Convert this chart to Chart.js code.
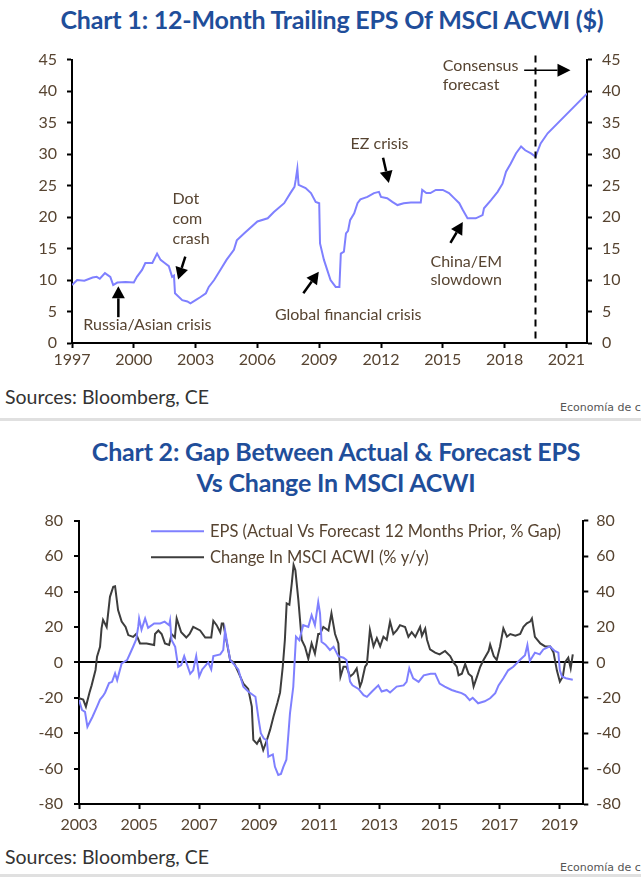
<!DOCTYPE html>
<html>
<head>
<meta charset="utf-8">
<script src="https://cdn.jsdelivr.net/npm/chart.js@4"></script>
<style>
  body { margin: 0; background: #fff; width: 641px; height: 881px; overflow: hidden; position: relative; font-family: Lato, sans-serif; }
  .title { position: absolute; left: 0; width: 664px; text-align: center; color: #1f4e9a; font-weight: bold; font-size: 25px; line-height: 31px; letter-spacing: -0.2px; }
  .src { position: absolute; left: 5px; font-size: 19.5px; color: #333; }
  .tag { position: absolute; left: 560px; font-size: 11px; color: #555; white-space: nowrap; font-family: "DejaVu Sans", sans-serif; }
  .sep { position: absolute; left: 0; width: 641px; height: 3px; background: #e0e0e0; }
  .box { position: absolute; left: 0; width: 641px; }
</style>
</head>
<body>
<div class="title" style="top:4px">Chart 1: 12-Month Trailing EPS Of MSCI ACWI ($)</div>
<div class="box" style="top:40px;height:340px"><canvas id="chart1"></canvas></div>
<div class="src" style="top:385px">Sources: Bloomberg, CE</div>
<div class="tag" style="top:401px">Economía de c</div>
<div class="sep" style="top:418px"></div>

<div class="title" style="top:436px;width:672px">Chart 2: Gap Between Actual &amp; Forecast EPS<br>Vs Change In MSCI ACWI</div>
<div class="box" style="top:500px;height:345px"><canvas id="chart2"></canvas></div>
<div class="src" style="top:845px">Sources: Bloomberg, CE</div>
<div class="tag" style="top:861px">Economía de c</div>
<div class="sep" style="top:874px"></div>

<script>
// ---- Chart 1 data: 12m trailing EPS of MSCI ACWI ($)
const epsYears = [1997.0, 1997.25, 1997.6, 1998.0, 1998.2, 1998.35, 1998.6, 1998.86, 1999.0, 1999.2, 1999.6,
  2000.0, 2000.15, 2000.4, 2000.56, 2000.9, 2001.13, 2001.3, 2001.5, 2001.7, 2001.86, 2001.95,
  2002.0, 2002.35, 2002.6, 2002.75, 2003.0, 2003.24, 2003.5, 2003.64, 2003.9, 2004.2, 2004.5, 2004.86,
  2005.0, 2005.35, 2006.0, 2006.5, 2006.8, 2007.3, 2007.6, 2007.8, 2007.86, 2007.94, 2008.0, 2008.34,
  2008.6, 2008.83, 2009.0, 2009.04, 2009.23, 2009.4, 2009.55, 2009.8, 2009.98, 2010.05, 2010.2, 2010.3,
  2010.4, 2010.5, 2010.7, 2010.86, 2011.0, 2011.34, 2011.66, 2011.9, 2012.0, 2012.3, 2012.55, 2012.8,
  2013.1, 2013.45, 2013.93, 2014.0, 2014.2, 2014.4, 2014.66, 2015.0, 2015.3, 2015.55, 2015.8, 2015.96,
  2016.2, 2016.6, 2016.93, 2017.0, 2017.34, 2017.66, 2017.9, 2018.07, 2018.3, 2018.55, 2018.8, 2019.0,
  2019.28, 2019.5, 2019.75, 2020.09, 2022.0];
const epsValues = [9.2, 10.0, 9.9, 10.4, 10.5, 10.2, 11.1, 10.5, 9.2, 9.6, 9.7,
  9.6, 10.5, 11.6, 12.7, 12.7, 14.2, 13.2, 12.7, 12.2, 10.5, 10.7,
  7.9, 6.8, 6.6, 6.3, 6.8, 7.3, 7.9, 8.9, 10.0, 11.6, 13.2, 14.8,
  16.3, 17.4, 19.3, 19.8, 20.8, 22.2, 23.8, 24.8, 25.9, 27.7, 25.1, 24.6,
  23.8, 22.4, 22.2, 15.8, 13.2, 11.5, 10.0, 8.9, 8.9, 14.2, 14.5, 17.4,
  17.8, 19.5, 20.6, 22.2, 22.8, 23.2, 23.8, 24.0, 23.2, 23.0, 22.4, 21.9,
  22.2, 22.3, 22.3, 24.3, 23.8, 23.8, 24.3, 24.3, 23.8, 23.0, 22.2, 21.2,
  19.8, 19.8, 20.3, 21.4, 22.7, 24.0, 25.3, 27.2, 28.5, 30.1, 31.2, 30.6,
  30.1, 29.6, 31.7, 33.3, 39.6];
const chart1XTicks = [1997, 2000, 2003, 2006, 2009, 2012, 2015, 2018, 2021];
const forecastStart = 2019.5;

// ---- Chart 2 data
const gapYears = [2003.0, 2003.1, 2003.2, 2003.28, 2003.45, 2003.6, 2003.7, 2003.8, 2003.87, 2004.0, 2004.1,
  2004.2, 2004.27, 2004.42, 2004.6, 2004.7, 2004.8, 2004.9, 2004.97, 2005.0, 2005.08, 2005.2, 2005.3,
  2005.5, 2005.7, 2005.85, 2006.0, 2006.03, 2006.08, 2006.2, 2006.3, 2006.4, 2006.5, 2006.7, 2006.8,
  2006.9, 2007.0, 2007.1, 2007.3, 2007.4, 2007.47, 2007.7, 2007.8, 2007.86, 2007.97, 2008.03, 2008.15,
  2008.3, 2008.47, 2008.63, 2008.87, 2008.98, 2009.05, 2009.15, 2009.25, 2009.3, 2009.45, 2009.52,
  2009.63, 2009.72, 2009.8, 2009.9, 2009.97, 2010.02, 2010.13, 2010.22, 2010.33, 2010.46, 2010.63,
  2010.74, 2010.85, 2010.96, 2011.02, 2011.07, 2011.2, 2011.35, 2011.47, 2011.63, 2011.8, 2011.9,
  2012.02, 2012.1, 2012.3, 2012.47, 2012.58, 2012.75, 2012.96, 2013.07, 2013.24, 2013.35, 2013.57,
  2013.8, 2013.9, 2013.99, 2014.12, 2014.3, 2014.47, 2014.7, 2014.85, 2015.0, 2015.17, 2015.4, 2015.55,
  2015.73, 2015.85, 2016.0, 2016.1, 2016.28, 2016.5, 2016.68, 2016.85, 2016.96, 2017.12, 2017.28,
  2017.45, 2017.67, 2017.84, 2017.92, 2018.0, 2018.17, 2018.33, 2018.45, 2018.56, 2018.67, 2018.83,
  2018.95, 2019.0, 2019.07, 2019.2, 2019.43];
const gapValues = [-21.3, -26.9, -28, -36.4, -30.7, -25, -21, -19, -17, -11.7, -11,
  -6.2, -10, -0.6, 1.3, 5, 8.8, 12.8, 20, 24.8, 18.5, 24.8, 19.5,
  22, 22, 23, 21, 23.5, 12.6, 8.8, -2.5, -1.5, 3.5, -6.5, -4.5,
  3.5, -8, -4, 0, -4, 3.5, 4.5, 7, 18, 7, 1.3, -1,
  -4, -13.8, -16.5, -19.4, -32.6, -40, -43, -44, -53.3, -52, -59,
  -63.6, -63, -59, -55, -40, -28.8, -13.8, 14.5, 12.5, 21, 20,
  26.7, 21, 34, 27.7, 11.6, 10, 7, 8.8, 3.5, 2.6, 1.3,
  -10.9, -13, -15, -18.5, -19.5, -16.5, -13, -16.5, -15.6, -17, -13.7,
  -13, -11, -3.4, -9, -11, -7.3, -6.4, -6.4, -12, -13.7, -15.6, -16.5,
  -17.4, -18.5, -21.3, -20, -23.1, -22, -20.3, -17.4, -13, -9, -4.5,
  -2.5, 1.3, 4, 9.8, 0.8, 5.5, 4.5, 7.3, 8.2, 9, 6.4,
  5.5, -4.5, -8, -9, -9.8];

const acwiYears = [2003.0, 2003.14, 2003.23, 2003.35, 2003.42, 2003.55, 2003.6, 2003.7, 2003.75, 2003.8, 2003.92,
  2004.03, 2004.14, 2004.2, 2004.3, 2004.42, 2004.55, 2004.64, 2004.8, 2004.9, 2005.03, 2005.25, 2005.5,
  2005.53, 2005.64, 2005.75, 2005.86, 2006.0, 2006.08, 2006.19, 2006.25, 2006.4, 2006.57, 2006.68, 2006.8,
  2007.03, 2007.2, 2007.4, 2007.47, 2007.58, 2007.7, 2007.75, 2007.8, 2007.9, 2008.03, 2008.15, 2008.3,
  2008.47, 2008.63, 2008.75, 2008.8, 2008.92, 2009.02, 2009.13, 2009.25, 2009.36, 2009.47, 2009.6, 2009.69,
  2009.78, 2009.85, 2009.91, 2010.0, 2010.08, 2010.14, 2010.2, 2010.3, 2010.41, 2010.52, 2010.63, 2010.74,
  2010.85, 2010.96, 2011.02, 2011.13, 2011.3, 2011.4, 2011.52, 2011.63, 2011.7, 2011.8, 2011.9, 2012.02,
  2012.13, 2012.24, 2012.35, 2012.41, 2012.52, 2012.58, 2012.68, 2012.8, 2012.91, 2013.02, 2013.13, 2013.24,
  2013.35, 2013.46, 2013.57, 2013.68, 2013.85, 2013.96, 2014.07, 2014.19, 2014.35, 2014.41, 2014.52, 2014.58,
  2014.68, 2014.85, 2015.0, 2015.18, 2015.35, 2015.46, 2015.57, 2015.63, 2015.74, 2015.85, 2015.96, 2016.07,
  2016.13, 2016.24, 2016.35, 2016.46, 2016.63, 2016.68, 2016.8, 2016.9, 2017.01, 2017.12, 2017.24, 2017.35,
  2017.52, 2017.68, 2017.79, 2017.9, 2018.01, 2018.07, 2018.17, 2018.35, 2018.51, 2018.68, 2018.79, 2018.9,
  2019.0, 2019.1, 2019.17, 2019.28, 2019.36, 2019.43];
const acwiValues = [-20.3, -21, -25, -17, -13, -4.3, 3.2, 8.8, 19.2, 24, 20,
  37, 42.7, 43, 29.5, 23, 20, 15.4, 14.4, 16, 10.7, 10.7, 9.8,
  16, 18, 16, 10.7, 9.8, 16, 14, 24.8, 17, 14, 16, 20,
  18, 14, 14, 23.5, 21, 17, 22, 22, 12.8, 1.3, 0, -5.5,
  -12, -15, -25, -43.8, -46, -43, -49.5, -44, -38, -30.7, -23, -17,
  -2.5, 12.6, 33.3, 32.5, 44.6, 55, 52, 35, 12.6, 8.8, 2, 10.7,
  5, 16, 16, 20, 18, 27.7, 16, 10.7, -8.1, -2.5, -2.5, -8,
  -6.4, -3.4, -13.7, -11, -2.5, -1, 18.2, 9, 13.7, 9, 14.5, 12.8,
  23, 16, 18, 21, 20, 14.4, 17, 14.4, 20, 15, 19, 12.8,
  7.3, 5.5, 4.5, 6.4, 3.5, 0, -2.5, -7.3, -6.4, -1, -6.4, -8,
  -13.7, -8.2, -2.5, 1.3, 6.4, 10, 3.5, 1.3, 9, 19.2, 14.5, 16,
  15, 16, 20, 22, 23, 24.8, 14.4, 10.7, 9, 9, 5.5, -4.5,
  -10.9, -8, 0, 2.6, -3.4, 4.5];
const chart2XTicks = [2003, 2005, 2007, 2009, 2011, 2013, 2015, 2017, 2019];
const seriesLabels = ['EPS (Actual Vs Forecast 12 Months Prior, % Gap)', 'Change In MSCI ACWI (% y/y)'];

const BLUE = '#7f80ff';
const DARK = '#3d3d3d';
const TEXT = '#574431';
const FONT = 'Lato, sans-serif';

function toPoints(xs, ys) {
  return xs.map((x, i) => ({ x: x, y: ys[i] }));
}

function fixWidth(w) {
  return function (scale) { scale.width = w; };
}
function fixHeight(h) {
  return function (scale) { scale.height = h; };
}
function setTicks(list) {
  return function (scale) { scale.ticks = list.map(v => ({ value: v })); };
}

function drawArrow(ctx, x1, y1, x2, y2, lw, headLen, headW) {
  const ang = Math.atan2(y2 - y1, x2 - x1);
  const bx = x2 - headLen * Math.cos(ang);
  const by = y2 - headLen * Math.sin(ang);
  ctx.save();
  ctx.strokeStyle = '#000';
  ctx.fillStyle = '#000';
  ctx.lineWidth = lw;
  ctx.beginPath();
  ctx.moveTo(x1, y1);
  ctx.lineTo(bx, by);
  ctx.stroke();
  ctx.beginPath();
  ctx.moveTo(x2, y2);
  ctx.lineTo(bx + headW * Math.sin(ang), by - headW * Math.cos(ang));
  ctx.lineTo(bx - headW * Math.sin(ang), by + headW * Math.cos(ang));
  ctx.closePath();
  ctx.fill();
  ctx.restore();
}

// annotation texts and arrows for chart 1, placed in data units
const notes1 = [
  { lines: ['Russia/Asian crisis'], x: 2000.66, y: 2.9, align: 'center' },
  { lines: ['Dot', 'com', 'crash'], x: 2001.88, y: 22.9, align: 'left', step: 20 },
  { lines: ['Global financial crisis'], x: 2006.85, y: 4.4, align: 'left' },
  { lines: ['EZ crisis'], x: 2011.93, y: 31.7, align: 'center' },
  { lines: ['China/EM', 'slowdown'], x: 2014.4, y: 12.9, align: 'left', step: 18.5 },
  { lines: ['Consensus', 'forecast'], x: 2015.0, y: 44.0, align: 'left', step: 19 }
];
const arrows1 = [
  { from: [1999.25, 4.1], to: [1999.25, 9.0] },
  { from: [2002.5, 13.7], to: [2002.15, 10.1] },
  { from: [2008.23, 7.9], to: [2008.98, 11.3] },
  { from: [2012.1, 29.4], to: [2012.38, 25.4] },
  { from: [2015.37, 15.9], to: [2015.97, 19.2] },
  { from: [2018.95, 43.3], to: [2021.2, 43.3], lw: 1.6, head: 13, hw: 6.5 }
];

const notesPlugin = {
  id: 'notes1',
  afterDatasetsDraw(chart) {
    const ctx = chart.ctx;
    const xs = chart.scales.x, ys = chart.scales.y;
    const area = chart.chartArea;
    // forecast divider
    const fx = xs.getPixelForValue(forecastStart);
    ctx.save();
    ctx.strokeStyle = '#000';
    ctx.lineWidth = 2;
    ctx.setLineDash([7, 5]);
    ctx.beginPath();
    ctx.moveTo(fx, area.top - 4);
    ctx.lineTo(fx, area.bottom);
    ctx.stroke();
    ctx.restore();

    ctx.save();
    ctx.fillStyle = TEXT;
    ctx.font = '16px ' + FONT;
    ctx.textBaseline = 'middle';
    notes1.forEach(n => {
      ctx.textAlign = n.align;
      n.lines.forEach((t, i) => {
        ctx.fillText(t, xs.getPixelForValue(n.x), ys.getPixelForValue(n.y) + i * (n.step || 0));
      });
    });
    ctx.restore();
    arrows1.forEach(a => {
      drawArrow(ctx, xs.getPixelForValue(a.from[0]), ys.getPixelForValue(a.from[1]),
        xs.getPixelForValue(a.to[0]), ys.getPixelForValue(a.to[1]), a.lw || 2.5, a.head || 12, a.hw || 6.5);
    });
  }
};

const legendPlugin = {
  id: 'legend2',
  afterDatasetsDraw(chart) {
    const ctx = chart.ctx;
    const area = chart.chartArea;
    ctx.save();
    ctx.font = '16.5px ' + FONT;
    ctx.textBaseline = 'middle';
    ctx.textAlign = 'left';
    chart.data.datasets.forEach((ds, i) => {
      const y = area.top + 10.5 + i * 26;
      ctx.strokeStyle = ds.borderColor;
      ctx.lineWidth = 2;
      ctx.beginPath();
      ctx.moveTo(area.left + 72, y);
      ctx.lineTo(area.left + 125, y);
      ctx.stroke();
      ctx.fillStyle = TEXT;
      ctx.fillText(ds.label, area.left + 131, y);
    });
    ctx.restore();
  }
};

const chart1 = new Chart(document.getElementById('chart1'), {
  type: 'line',
  data: {
    datasets: [{
      label: 'EPS',
      data: toPoints(epsYears, epsValues),
      borderColor: BLUE,
      borderWidth: 2,
      pointRadius: 0,
      tension: 0
    }]
  },
  options: {
    responsive: true,
    maintainAspectRatio: false,
    animation: false,
    layout: { padding: { top: 19.5, left: 0, right: 0, bottom: 0 } },
    plugins: { legend: { display: false }, tooltip: { enabled: false } },
    scales: {
      x: {
        type: 'linear', min: 1997, max: 2022,
        afterBuildTicks: setTicks(chart1XTicks),
        afterFit: fixHeight(37),
        border: { color: '#000', width: 2 },
        grid: { drawOnChartArea: false, tickColor: '#000', tickLength: 5, tickWidth: 2 },
        ticks: { color: TEXT, font: { family: FONT, size: 16 }, padding: 2, maxRotation: 0, callback: v => String(v) }
      },
      y: {
        position: 'left', min: 0, max: 45,
        afterFit: fixWidth(72),
        border: { color: '#000', width: 2 },
        grid: { drawOnChartArea: false, tickColor: '#000', tickLength: 5, tickWidth: 2 },
        ticks: { stepSize: 5, color: TEXT, font: { family: FONT, size: 16 }, padding: 10 }
      },
      y2: {
        position: 'right', min: 0, max: 45,
        afterFit: fixWidth(54),
        border: { color: '#000', width: 2 },
        grid: { drawOnChartArea: false, tickColor: '#000', tickLength: 5, tickWidth: 2 },
        ticks: { stepSize: 5, color: TEXT, font: { family: FONT, size: 16 }, padding: 10 }
      }
    }
  },
  plugins: [notesPlugin]
});

const chart2 = new Chart(document.getElementById('chart2'), {
  type: 'line',
  data: {
    datasets: [{
      label: seriesLabels[0],
      data: toPoints(gapYears, gapValues),
      borderColor: BLUE,
      borderWidth: 2,
      pointRadius: 0,
      tension: 0
    }, {
      label: seriesLabels[1],
      data: toPoints(acwiYears, acwiValues),
      borderColor: DARK,
      borderWidth: 2,
      pointRadius: 0,
      tension: 0
    }]
  },
  options: {
    responsive: true,
    maintainAspectRatio: false,
    animation: false,
    layout: { padding: { top: 20.7, left: 0, right: 0, bottom: 0 } },
    plugins: { legend: { display: false }, tooltip: { enabled: false } },
    scales: {
      x: {
        type: 'linear', min: 2003, max: 2019.78,
        afterBuildTicks: setTicks(chart2XTicks),
        afterFit: fixHeight(41),
        border: { color: '#000', width: 2 },
        grid: { drawOnChartArea: false, tickColor: '#000', tickLength: 5, tickWidth: 2 },
        ticks: { color: TEXT, font: { family: FONT, size: 16 }, padding: 6, maxRotation: 0, callback: v => String(v) }
      },
      y: {
        position: 'left', min: -80, max: 80,
        afterFit: fixWidth(79),
        border: { color: '#000', width: 2 },
        grid: {
          color: c => (c.tick && c.tick.value === 0 ? '#000' : 'rgba(0,0,0,0)'),
          lineWidth: 2, tickColor: '#000', tickLength: 5, tickWidth: 2
        },
        ticks: { stepSize: 20, color: TEXT, font: { family: FONT, size: 16 }, padding: 11 }
      },
      y2: {
        position: 'right', min: -80, max: 80,
        afterFit: fixWidth(57.7),
        border: { color: '#000', width: 2 },
        grid: { drawOnChartArea: false, tickColor: '#000', tickLength: 5, tickWidth: 2 },
        ticks: { stepSize: 20, color: TEXT, font: { family: FONT, size: 16 }, padding: 8 }
      }
    }
  },
  plugins: [legendPlugin]
});
</script>
</body>
</html>
